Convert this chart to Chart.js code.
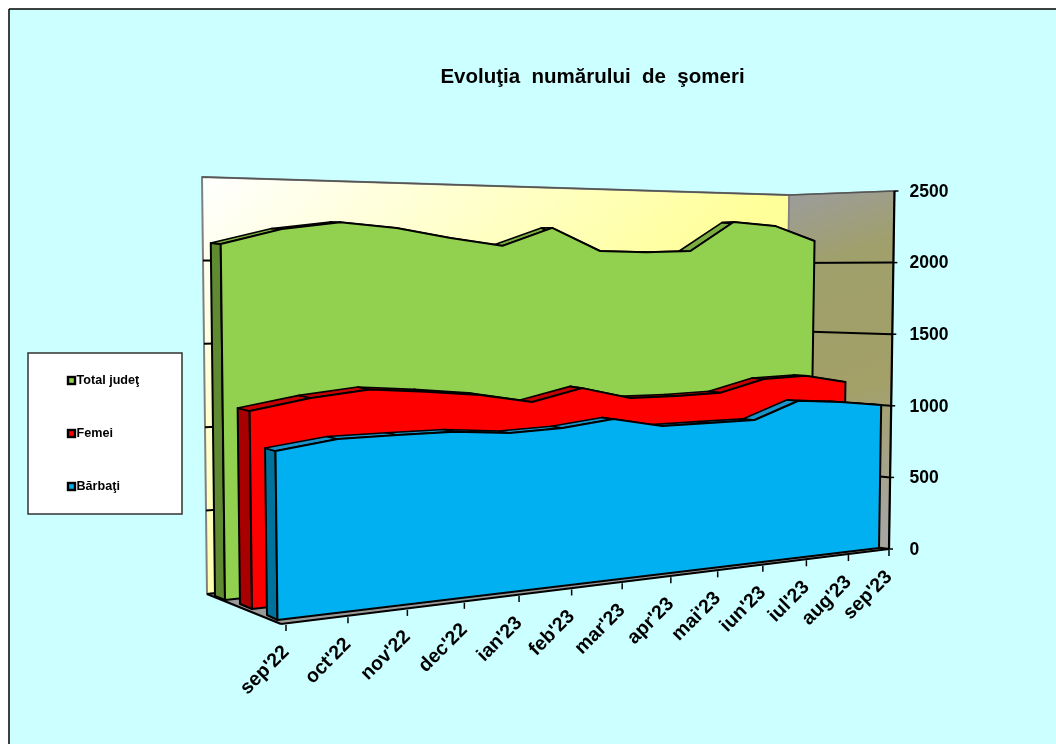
<!DOCTYPE html>
<html>
<head>
<meta charset="utf-8">
<style>
  html, body { margin: 0; padding: 0; background: #fff; }
  canvas { display: block; }
</style>
<script src="https://cdn.jsdelivr.net/npm/chart.js@4"></script>
</head>
<body>
<canvas id="myChart" width="1056" height="744"></canvas>
<script>
const months = ["sep'22", "oct'22", "nov'22", "dec'22", "ian'23", "feb'23", "mar'23", "apr'23", "mai'23", "iun'23", "iul'23", "aug'23", "sep'23"];
const totalJudet = [2107, 2199, 2245, 2215, 2155, 2108, 2229, 2078, 2072, 2082, 2288, 2265, 2160];
const femei = [1151, 1210, 1246, 1217, 1181, 1120, 1194, 1114, 1112, 1119, 1198, 1207, 1150];
const barbati = [966, 1011, 1012, 1010, 980, 989, 1025, 959, 959, 958, 1069, 1042, 1003];
const chartTitle = 'Evoluţia  numărului  de  şomeri';

// perspective planes: bottom-left, bottom-right and full-scale heights on screen
const planes = {
  wall: { xl: 207, yl: 594, hl: 417, xr: 784, yr: 535, hr: 340 },
  edge: { xl: 281, yl: 624, hl: 445, xr: 889, yr: 549, hr: 358 },
  ticks: { xl: 286, yl: 624, hl: 445, xr: 889, yr: 549, hr: 358 },
  greenBack: { xl: 215, yl: 596, hl: 418.75, xr: 798, yr: 536.5, hr: 341.25 },
  greenFront: { xl: 225, yl: 600, hl: 422.5, xr: 810, yr: 538, hr: 343.75 },
  redBack: { xl: 240, yl: 604, hl: 425.75, xr: 831, yr: 541, hr: 347.5 },
  redFront: { xl: 252, yl: 609, hl: 430, xr: 843, yr: 543, hr: 350 },
  blueBack: { xl: 267, yl: 615, hl: 432, xr: 867, yr: 546.4, hr: 353.75 },
  blueFront: { xl: 277.5, yl: 620, hl: 437.5, xr: 879, yr: 548, hr: 356.25 },
};
const seriesStyle = [
  { back: planes.greenBack, front: planes.greenFront, face: '#92D050', side: '#608A32', top: '#7AAC3F' },
  { back: planes.redBack, front: planes.redFront, face: '#FF0000', side: '#A80000', top: '#C80000' },
  { back: planes.blueBack, front: planes.blueFront, face: '#00B0F0', side: '#00739C', top: '#1A93C8' },
];
const perspective = 0.26;

// u (0..1 along the category axis) -> s (0..1 along the screen)
function foreshorten(u) {
  return (u * (1 + perspective)) / (1 + perspective * u);
}

function project(plane, u, frac) {
  const s = foreshorten(u);
  const h = frac * (plane.hl + (plane.hr - plane.hl) * s);
  const lean = -0.012 + 0.0273 * s;
  return {
    x: plane.xl + (plane.xr - plane.xl) * s + lean * h,
    y: plane.yl + (plane.yr - plane.yl) * s - h,
  };
}

function polygon(ctx, pts, fill, stroke, lw) {
  ctx.beginPath();
  pts.forEach((p, i) => (i ? ctx.lineTo(p.x, p.y) : ctx.moveTo(p.x, p.y)));
  ctx.closePath();
  if (fill) {
    ctx.fillStyle = fill;
    ctx.fill();
  }
  if (stroke) {
    ctx.strokeStyle = stroke;
    ctx.lineWidth = lw;
    ctx.lineJoin = 'round';
    ctx.stroke();
  }
}

function segment(ctx, a, b, color, lw) {
  ctx.beginPath();
  ctx.moveTo(a.x, a.y);
  ctx.lineTo(b.x, b.y);
  ctx.strokeStyle = color;
  ctx.lineWidth = lw;
  ctx.stroke();
}

function uOf(chart, i) {
  const x = chart.scales.x;
  return (x.getPixelForValue(i) - x.left) / x.width;
}

function fracOf(chart, v) {
  const y = chart.scales.y;
  return (y.bottom - y.getPixelForValue(v)) / y.height;
}

const scene3d = {
  id: 'scene3d',
  beforeDraw(chart) {
    const { ctx } = chart;
    ctx.save();
    ctx.fillStyle = '#fff';
    ctx.fillRect(0, 0, chart.width, chart.height);
    ctx.fillStyle = '#CCFFFF';
    ctx.fillRect(9, 9, chart.width - 9, chart.height - 9);
    segment(ctx, { x: 9, y: 9 }, { x: chart.width, y: 9 }, '#000', 1.5);
    segment(ctx, { x: 9, y: 9 }, { x: 9, y: chart.height }, '#000', 1.5);

    // back wall, side wall, floor
    const wall = planes.wall;
    const edge = planes.edge;
    const backGrad = ctx.createLinearGradient(202, 177, 477, 474);
    backGrad.addColorStop(0, '#FFFFFF');
    backGrad.addColorStop(1, '#FFFF99');
    polygon(ctx, [project(wall, 0, 1), project(wall, 1, 1), project(wall, 1, 0), project(wall, 0, 0)], backGrad, '#808080', 2);
    const sideGrad = ctx.createLinearGradient(785, 195, 892, 520);
    sideGrad.addColorStop(0, '#9C9C9C');
    sideGrad.addColorStop(0.22, '#A0A06C');
    sideGrad.addColorStop(0.6, '#A3A068');
    sideGrad.addColorStop(1, '#A6A6A0');
    polygon(ctx, [project(wall, 1, 1), project(edge, 1, 1), project(edge, 1, 0), project(wall, 1, 0)], sideGrad, '#808080', 1.5);
    polygon(ctx, [project(wall, 0, 0), project(edge, 0, 0), project(edge, 1, 0), project(wall, 1, 0)], '#999999', null, 0);

    // grid lines on both walls
    chart.scales.y.ticks.forEach((t) => {
      const f = fracOf(chart, t.value);
      segment(ctx, project(wall, 0, f), project(wall, 1, f), f === 1 ? '#555' : '#000', f === 1 ? 1.5 : 2);
      segment(ctx, project(wall, 1, f), project(edge, 1, f), f === 1 ? '#555' : '#000', f === 1 ? 1.5 : 2);
      const end = project(edge, 1, f);
      segment(ctx, end, { x: end.x + 4, y: end.y }, '#000', 1.5);
    });

    segment(ctx, project(edge, 1, 0), project(edge, 1, 1), '#000', 2.2);
    segment(ctx, project(wall, 0, 0), project(edge, 0, 0), '#000', 2.2);
    ctx.restore();
  },
  beforeDatasetsDraw(chart) {
    const { ctx } = chart;
    ctx.save();
    chart.data.datasets.forEach((ds, d) => {
      const st = seriesStyle[d];
      const n = ds.data.length;
      const backTop = ds.data.map((v, i) => project(st.back, uOf(chart, i), fracOf(chart, v)));
      const frontTop = ds.data.map((v, i) => project(st.front, uOf(chart, i), fracOf(chart, v)));

      polygon(ctx, [backTop[0], frontTop[0], project(st.front, 0, 0), project(st.back, 0, 0)], st.side, '#000', 2);
      for (let i = 0; i < n - 1; i++) {
        polygon(ctx, [frontTop[i], frontTop[i + 1], backTop[i + 1], backTop[i]], st.top, '#000', 1.6);
      }
      polygon(ctx, [...frontTop, project(st.front, 1, 0), project(st.front, 0, 0)], st.face, '#000', 2);
    });
    ctx.restore();
    return false;
  },
  afterDraw(chart) {
    const { ctx } = chart;
    ctx.save();

    // front edge of the floor with ticks and slanted month labels
    segment(ctx, project(planes.edge, 0, 0), project(planes.edge, 1, 0), '#000', 2.2);
    chart.scales.x.getLabels().forEach((label, i) => {
      const p = project(planes.ticks, uOf(chart, i), 0);
      segment(ctx, { x: p.x, y: p.y + 1 }, { x: p.x, y: p.y + 7 }, '#000', 1.5);
      ctx.save();
      ctx.translate(p.x, p.y + 25);
      ctx.rotate(-Math.PI / 4);
      ctx.font = 'bold 19.5px "Liberation Sans"';
      ctx.fillStyle = '#000';
      ctx.textAlign = 'right';
      ctx.textBaseline = 'middle';
      ctx.fillText(label, 0, 0);
      ctx.restore();
    });

    // title
    ctx.font = 'bold 20.5px "Liberation Sans"';
    ctx.fillStyle = '#000';
    ctx.textAlign = 'center';
    ctx.textBaseline = 'middle';
    ctx.fillText(chartTitle, 592.5, 77.5);

    // legend
    ctx.fillStyle = '#fff';
    ctx.strokeStyle = '#333';
    ctx.lineWidth = 1.5;
    ctx.fillRect(28, 353, 154, 161);
    ctx.strokeRect(28, 353, 154, 161);
    ctx.font = 'bold 12.6px "Liberation Sans"';
    ctx.textAlign = 'left';
    chart.data.datasets.forEach((ds, d) => {
      const y = 380.5 + d * 53;
      ctx.fillStyle = ds.backgroundColor;
      ctx.fillRect(68, y - 3.5, 7, 7);
      ctx.strokeStyle = '#000';
      ctx.lineWidth = 2.4;
      ctx.strokeRect(68, y - 3.5, 7, 7);
      ctx.fillStyle = '#000';
      ctx.fillText(ds.label, 76.5, y);
    });
    ctx.restore();
  },
};

const ctx = document.getElementById('myChart').getContext('2d');
const chart = new Chart(ctx, {
  type: 'line',
  data: {
    labels: months,
    datasets: [
      { label: 'Total judeţ', data: totalJudet, backgroundColor: '#92D050', borderColor: '#000', pointRadius: 0 },
      { label: 'Femei', data: femei, backgroundColor: '#FF0000', borderColor: '#000', pointRadius: 0 },
      { label: 'Bărbaţi', data: barbati, backgroundColor: '#00B0F0', borderColor: '#000', pointRadius: 0 },
    ],
  },
  plugins: [scene3d],
  options: {
    responsive: false,
    animation: false,
    layout: { padding: { left: 200, top: 192, bottom: 194, right: 0 } },
    plugins: { legend: { display: false }, title: { display: false }, tooltip: { enabled: false } },
    scales: {
      x: { display: false },
      y: {
        position: 'right',
        min: 0,
        max: 2500,
        afterFit: (scale) => { scale.width = 161; },
        border: { display: false },
        grid: { display: false, drawTicks: false },
        ticks: {
          stepSize: 500,
          padding: 14.5,
          color: '#000',
          font: { family: '"Liberation Sans"', size: 17.5, weight: 'bold' },
          callback: (value) => String(value),
        },
      },
    },
  },
});
</script>
</body>
</html>
